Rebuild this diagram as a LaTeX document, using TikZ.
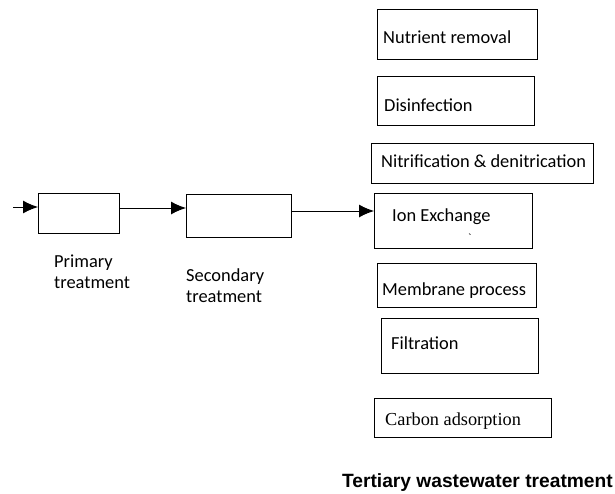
\documentclass[tikz,border=0pt]{standalone}
\usepackage{fontspec}
\setmainfont{Carlito}
\newfontfamily\timesfont{Liberation Serif}
\newfontfamily\arialfont{Liberation Sans}
\usetikzlibrary{arrows.meta}
\begin{document}
\begin{tikzpicture}[x=1pt,y=-1pt,
  box/.style={draw=black,line width=1pt,rectangle,inner sep=0pt,anchor=north west},
  lbl/.style={anchor=base west,inner sep=0pt,font=\fontsize{18.4}{21}\selectfont},
  flow/.style={draw=black,line width=1pt,-{Latex[length=15pt,width=13pt]}}]
\useasboundingbox (0,0) rectangle (615,493);
% left chain
\coordinate (in) at (13,207);
\node[box,minimum width=81pt,minimum height=40pt] (prim) at (38,193) {};
\node[box,minimum width=105pt,minimum height=43pt] (sec) at (186,194) {};
\node[lbl] (primt) at (54,267) {Primary};
\node[lbl] (primt2) at (54,288) {treatment};
\node[lbl] (sect) at (186,281) {Secondary};
\node[lbl] (sect2) at (186,302) {treatment};
% tertiary boxes
\node[box,minimum width=160pt,minimum height=50pt] (nut) at (377,9) {};
\node[box,minimum width=157pt,minimum height=49pt] (dis) at (377,76) {};
\node[box,minimum width=222pt,minimum height=40pt] (nit) at (371,143) {};
\node[box,minimum width=158pt,minimum height=55pt] (ion) at (374,193) {};
\node[box,minimum width=159pt,minimum height=44pt] (mem) at (377,263) {};
\node[box,minimum width=157pt,minimum height=55pt] (fil) at (381,318) {};
\node[box,minimum width=177pt,minimum height=39pt] (car) at (374,398) {};
\node[lbl] (nutt) at (383,43) {Nutrient removal};
\node[lbl] (dist) at (384,111) {Disinfection};
\node[lbl] (nitt) at (381,167) {Nitrification \& denitrication};
\node[lbl] (iont) at (392,221) {Ion Exchange};
\node[anchor=base west,inner sep=0pt,font=\fontsize{11}{12}\selectfont] (tick) at (468,241) {\textasciigrave};
\node[lbl] (memt) at (382,295) {Membrane process};
\node[lbl] (filt) at (391,349) {Filtration};
\node[lbl,font=\timesfont\fontsize{18.3}{21}\selectfont] (cart) at (385,425) {Carbon adsorption};
\node[anchor=base east,inner sep=0pt,font=\arialfont\bfseries\fontsize{19.2}{22}\selectfont] (title) at (613,487) {Tertiary wastewater treatment};
% connectors
\draw[flow] (in) -- (prim.west |- in);
\draw[flow] (prim.east |- 0,208) -- (sec.west |- 0,208);
\draw[flow] (sec.east |- 0,211) -- (ion.west |- 0,211);
\end{tikzpicture}
\end{document}
